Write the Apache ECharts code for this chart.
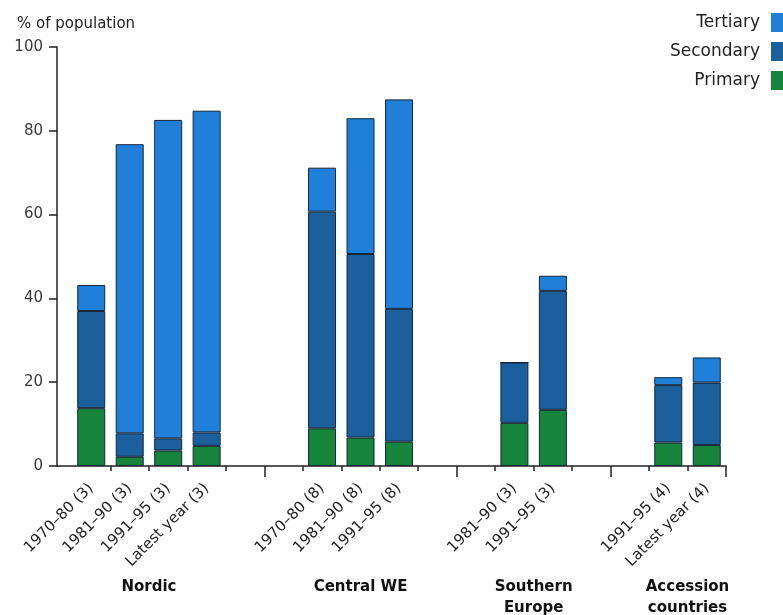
<!DOCTYPE html>
<html>
<head>
<meta charset="utf-8">
<script src="https://cdn.jsdelivr.net/npm/echarts@6/dist/echarts.min.js"></script>
<style>
  html, body { margin: 0; padding: 0; background: #fff; }
  #chart { width: 783px; height: 615px; }
</style>
</head>
<body>
<div id="chart"></div>
<script>
// 17 slots, empty ones are the gaps between the country groups
var categories = ['1970–80 (3)', '1981–90 (3)', '1991–95 (3)', 'Latest year (3)', '', '',
    '1970–80 (8)', '1981–90 (8)', '1991–95 (8)', '', '',
    '1981–90 (3)', '1991–95 (3)', '', '',
    '1991–95 (4)', 'Latest year (4)'];
var primary = [13.8, 2.2, 3.7, 4.8, null, null, 9.0, 6.8, 5.8, null, null, 10.3, 13.4, null, null, 5.6, 5.0];
var secondary = [23.2, 5.6, 2.9, 3.2, null, null, 51.7, 43.8, 31.7, null, null, 14.4, 28.4, null, null, 13.7, 14.9];
var tertiary = [6.2, 69.0, 76.0, 76.8, null, null, 10.5, 32.4, 50.0, null, null, 0, 3.6, null, null, 1.9, 6.0];
var yTicks = [0, 20, 40, 60, 80, 100];
var groupNames = ['Nordic', 'Central WE', 'Southern\nEurope', 'Accession\ncountries'];
var groupFirst = [0, 6, 11, 15];
var groupLast = [3, 8, 12, 16];
var majorTicks = [5, 10, 14];

var colors = {
    Tertiary: '#1f7fd9',
    Secondary: '#1b5f9d',
    Primary: '#16843b'
};
var font = 'DejaVu Sans';
var ink = '#222';

var chart = echarts.init(document.getElementById('chart'));

function bar (name, data) {
    return {
        name: name,
        type: 'bar',
        stack: 'total',
        barWidth: 28,
        data: data,
        itemStyle: {
            color: colors[name],
            borderColor: '#16263a',
            borderWidth: 1
        }
    };
}

var option = {
    animation: false,
    textStyle: { fontFamily: font },
    title: {
        text: '% of population',
        left: 12,
        top: 12,
        textStyle: { fontSize: 15, fontWeight: 'normal', color: ink, fontFamily: font }
    },
    legend: {
        orient: 'vertical',
        align: 'right',
        right: -12,
        top: 8,
        itemWidth: 19,
        itemHeight: 19,
        itemGap: 10,
        icon: 'rect',
        itemStyle: { borderWidth: 0 },
        data: ['Tertiary', 'Secondary', 'Primary'],
        textStyle: { fontSize: 17, color: ink, fontFamily: font, padding: [0, 6, 0, 0] }
    },
    grid: [
        { left: 72, right: 57, top: 47, bottom: 149 },
        { left: 57, right: 57, top: 47, bottom: 149 }
    ],
    xAxis: [
        {
            type: 'category',
            gridIndex: 0,
            position: 'bottom',
            data: categories,
            axisLine: { show: false },
            axisTick: {
                show: true,
                length: 5,
                interval: function (index) { return index !== 0; },
                lineStyle: { color: ink, width: 1.5 }
            },
            axisLabel: {
                rotate: 45,
                margin: 20,
                interval: 0,
                fontSize: 15,
                color: ink,
                fontFamily: font
            }
        },
        {
            type: 'category',
            gridIndex: 0,
            position: 'bottom',
            data: categories,
            axisLine: { show: false },
            axisTick: {
                show: true,
                length: 11,
                interval: function (index) { return majorTicks.indexOf(index) >= 0; },
                lineStyle: { color: ink, width: 1.5 }
            },
            axisLabel: { show: false }
        },
        {
            type: 'value',
            gridIndex: 1,
            min: 0,
            max: 1,
            axisLine: { show: true, onZero: false, lineStyle: { color: ink, width: 1.5 } },
            axisTick: { show: false },
            axisLabel: { show: false },
            splitLine: { show: false }
        }
    ],
    yAxis: [
        {
            type: 'value',
            gridIndex: 0,
            min: 0,
            max: 100,
            interval: 20,
            show: false
        },
        {
            type: 'value',
            gridIndex: 1,
            min: yTicks[0],
            max: yTicks[yTicks.length - 1],
            interval: yTicks[1] - yTicks[0],
            axisLine: { show: true, onZero: false, lineStyle: { color: ink, width: 1.5 } },
            axisTick: { show: true, length: 8, lineStyle: { color: ink, width: 1.5 } },
            axisLabel: { margin: 14, fontSize: 15, color: '#3a3a3a', fontFamily: font },
            splitLine: { show: false }
        }
    ],
    series: [
        bar('Primary', primary),
        bar('Secondary', secondary),
        bar('Tertiary', tertiary)
    ]
};

chart.setOption(option);

// group names centred under each group of bars
var baseY = chart.convertToPixel({ yAxisIndex: 0 }, 0);
var texts = [];
for (var g = 0; g < groupNames.length; g++) {
    var x0 = chart.convertToPixel({ xAxisIndex: 0 }, groupFirst[g]);
    var x1 = chart.convertToPixel({ xAxisIndex: 0 }, groupLast[g]);
    texts.push({
        type: 'text',
        x: (x0 + x1) / 2,
        y: baseY + 111,
        style: {
            text: groupNames[g],
            align: 'center',
            verticalAlign: 'top',
            font: 'bold 15px "' + font + '"',
            lineHeight: 21,
            fill: '#111'
        }
    });
}
chart.setOption({ graphic: texts });
</script>
</body>
</html>
